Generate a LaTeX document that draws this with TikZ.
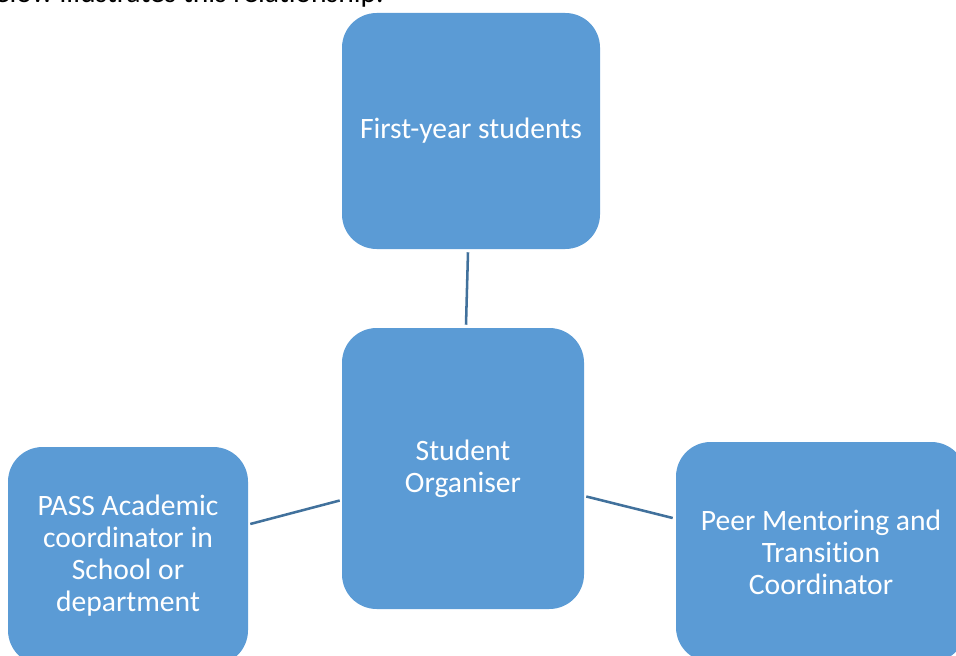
\documentclass[tikz,border=0pt]{standalone}
\usepackage{fontspec}
\setmainfont[Ligatures=NoCommon]{Carlito}
\usetikzlibrary{calc}
\definecolor{boxblue}{HTML}{5B9BD5}
\definecolor{linkblue}{HTML}{41719C}
\tikzset{
  unit/.style={x=0.75pt,y=-0.75pt},
  rolebox/.style={draw=none,fill=boxblue,rounded corners=26pt,inner sep=0pt,
    text=white,align=center,font=\fontsize{22.2}{24}\selectfont},
  link/.style={draw=linkblue,line width=1.9pt}
}
\begin{document}
\begin{tikzpicture}[unit]
  \path[use as bounding box] (0,0) rectangle (956,656);
  \clip (0,0) rectangle (956,656);
  % lead-in sentence, running off the top edge
  \node[anchor=base east,inner sep=0pt,font=\fontsize{22.2}{24}\selectfont]
    (caption) at (384,3) {below illustrates this relationship.};
  % role boxes
  \node[rolebox,minimum width=193.5pt,minimum height=177pt] (top) at (471,131) {First-year students};
  \node[rolebox,minimum width=181.5pt,minimum height=210.75pt] (mid) at (463,468.5) {Student\\Organiser};
  \node[rolebox,minimum width=180pt,minimum height=163.5pt] (left) at (128,556)
    {PASS Academic\\coordinator in\\School or\\department};
  \node[rolebox,minimum width=217.5pt,minimum height=165pt] (right) at (821,552)
    {Peer Mentoring and\\Transition\\Coordinator};
  % connectors
  \draw[link] ($(top.south)+(-3,3)$) -- ($(mid.north)+(3,-3)$);
  \draw[link] ($(left.east)+(2,-32)$) -- ($(mid.west)+(-2,32)$);
  \draw[link] ($(mid.east)+(2,28)$) -- ($(right.west)+(-3,-34)$);
\end{tikzpicture}
\end{document}
